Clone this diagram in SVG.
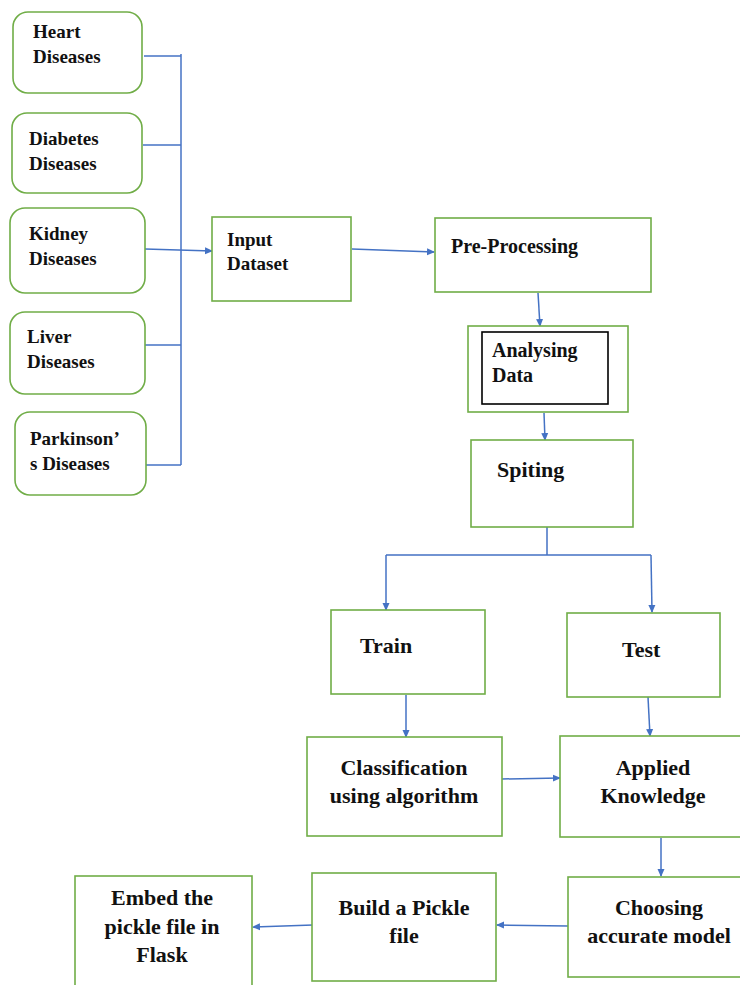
<svg xmlns="http://www.w3.org/2000/svg" width="740" height="985" viewBox="0 0 740 985">
<style>
.box{fill:#fff;stroke:#70AD47;stroke-width:1.6}
.inner{fill:#fff;stroke:#000;stroke-width:1.6}
.c{fill:none;stroke:#4472C4;stroke-width:1.5}
text{font-family:"Liberation Serif","Times New Roman",serif;font-weight:bold;fill:#111}
.s19{font-size:19px}
.s20{font-size:20px}
.s22{font-size:22px}
.m{text-anchor:middle}
</style>
<defs>
<marker id="ah" markerWidth="8" markerHeight="8" refX="7" refY="4" orient="auto" markerUnits="userSpaceOnUse">
<path d="M0,0.5 L8,4 L0,7.5 Z" fill="#4472C4"/>
</marker>
</defs>
<rect width="740" height="985" fill="#fff"/>

<g id="connectors">
<path class="c" d="M144,56 H181"/>
<path class="c" d="M143,145 H181"/>
<path class="c" d="M145,345 H181"/>
<path class="c" d="M146,465 H181"/>
<path class="c" d="M181,54 V465"/>
<path class="c" d="M145,249 L212,251" marker-end="url(#ah)"/>
<path class="c" d="M352,249 L434,252" marker-end="url(#ah)"/>
<path class="c" d="M538,293 L540,326" marker-end="url(#ah)"/>
<path class="c" d="M544,413 L545,440" marker-end="url(#ah)"/>
<path class="c" d="M547,527 V555 M386,555 H651"/>
<path class="c" d="M386,555 V610" marker-end="url(#ah)"/>
<path class="c" d="M651,555 L652,612" marker-end="url(#ah)"/>
<path class="c" d="M406,695 V737" marker-end="url(#ah)"/>
<path class="c" d="M648,697 L650,736" marker-end="url(#ah)"/>
<path class="c" d="M502,779 L560,778" marker-end="url(#ah)"/>
<path class="c" d="M661,838 V876" marker-end="url(#ah)"/>
<path class="c" d="M568,926 L497,925" marker-end="url(#ah)"/>
<path class="c" d="M313,925 L253,927" marker-end="url(#ah)"/>
</g>

<g id="heart">
<rect class="box" x="13" y="12" width="129" height="81" rx="15"/>
<text class="s19" x="33" y="38">Heart</text>
<text class="s19" x="33" y="63">Diseases</text>
</g>
<g id="diabetes">
<rect class="box" x="12" y="113" width="130" height="80" rx="15"/>
<text class="s19" x="29" y="145">Diabetes</text>
<text class="s19" x="29" y="170">Diseases</text>
</g>
<g id="kidney">
<rect class="box" x="10" y="208" width="135" height="85" rx="15"/>
<text class="s19" x="29" y="240">Kidney</text>
<text class="s19" x="29" y="265">Diseases</text>
</g>
<g id="liver">
<rect class="box" x="10" y="312" width="135" height="82" rx="15"/>
<text class="s19" x="27" y="343">Liver</text>
<text class="s19" x="27" y="368">Diseases</text>
</g>
<g id="parkinsons">
<rect class="box" x="15" y="412" width="131" height="83" rx="15"/>
<text class="s19" x="30" y="445">Parkinson’</text>
<text class="s19" x="30" y="470">s Diseases</text>
</g>
<g id="input">
<rect class="box" x="212" y="217" width="139" height="84"/>
<text class="s19" x="227" y="246">Input</text>
<text class="s19" x="227" y="270">Dataset</text>
</g>
<g id="preprocessing">
<rect class="box" x="435" y="218" width="216" height="74"/>
<text class="s20" x="451" y="253">Pre-Processing</text>
</g>
<g id="analysing">
<rect class="box" x="468" y="326" width="160" height="86"/>
<rect class="inner" x="482" y="332" width="126" height="72"/>
<text class="s20" x="492" y="357">Analysing</text>
<text class="s20" x="492" y="382">Data</text>
</g>
<g id="spiting">
<rect class="box" x="471" y="440" width="162" height="87"/>
<text class="s22" x="497" y="477">Spiting</text>
</g>
<g id="train">
<rect class="box" x="331" y="610" width="154" height="84"/>
<text class="s22" x="360" y="653">Train</text>
</g>
<g id="test">
<rect class="box" x="567" y="613" width="153" height="84"/>
<text class="s22" x="622" y="657">Test</text>
</g>
<g id="classification">
<rect class="box" x="307" y="737" width="195" height="99"/>
<text class="s22 m" x="404" y="775">Classification</text>
<text class="s22 m" x="404" y="803">using algorithm</text>
</g>
<g id="applied">
<rect class="box" x="560" y="736" width="185" height="101"/>
<text class="s22 m" x="653" y="775">Applied</text>
<text class="s22 m" x="653" y="803">Knowledge</text>
</g>
<g id="choosing">
<rect class="box" x="568" y="877" width="180" height="100"/>
<text class="s22 m" x="659" y="915">Choosing</text>
<text class="s22 m" x="659" y="943">accurate model</text>
</g>
<g id="pickle">
<rect class="box" x="312" y="873" width="184" height="108"/>
<text class="s22 m" x="404" y="915">Build a Pickle</text>
<text class="s22 m" x="404" y="943">file</text>
</g>
<g id="embed">
<rect class="box" x="75" y="876" width="177" height="115"/>
<text class="s22 m" x="162" y="905">Embed the</text>
<text class="s22 m" x="162" y="934">pickle file in</text>
<text class="s22 m" x="162" y="962">Flask</text>
</g>
</svg>
